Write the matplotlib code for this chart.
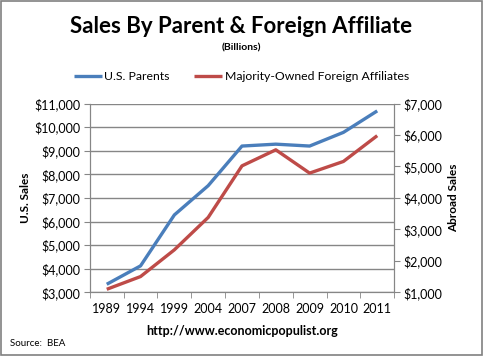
import matplotlib
matplotlib.use("Agg")
import matplotlib.pyplot as plt
from matplotlib.patches import Rectangle
from matplotlib.ticker import FuncFormatter

# values (billions of dollars)
years = ["1989", "1994", "1999", "2004", "2007", "2008", "2009", "2010", "2011"]
us_parents = [3340, 4120, 6280, 7520, 9200, 9280, 9200, 9780, 10690]
foreign_affiliates = [1095, 1500, 2350, 3380, 5020, 5530, 4790, 5160, 5980]

left_ticks = list(range(3000, 11001, 1000))
right_ticks = list(range(1000, 7001, 1000))

blue = "#4a7ebb"
red = "#be4b48"
grey = "#868686"
font = "Lato"

fig = plt.figure(figsize=(4.83, 3.56), dpi=100)
fig.patches.append(Rectangle((0.002, 0.003), 0.995, 0.993, transform=fig.transFigure,
                             fill=False, edgecolor="#808080", lw=1.2))

ax = fig.add_axes([0.186, 0.179, 0.63, 0.530])
ax2 = ax.twinx()

x = list(range(len(years)))
l1, = ax.plot(x, us_parents, color=blue, lw=2.4, solid_capstyle="butt")
l2, = ax2.plot(x, foreign_affiliates, color=red, lw=2.4, solid_capstyle="butt")

ax.set_xlim(-0.5, len(years) - 0.5)
ax.set_ylim(3000, 11000)
ax2.set_ylim(1000, 7000)
ax.set_yticks(left_ticks)
ax2.set_yticks(right_ticks)
money = FuncFormatter(lambda v, p: "${:,.0f}".format(v))
ax.yaxis.set_major_formatter(money)
ax2.yaxis.set_major_formatter(money)

ax.set_xticks(x)
ax.set_xticklabels(years)
ax.set_xticks([i - 0.5 for i in range(len(years) + 1)], minor=True)
ax.tick_params(axis="x", which="major", length=0, pad=8, labelsize=9)
ax.tick_params(axis="x", which="minor", length=4, color=grey, direction="out")
ax.tick_params(axis="y", length=4, color=grey, labelsize=9, pad=3)
ax2.tick_params(axis="y", length=4, color=grey, labelsize=9, pad=3)

ax.grid(axis="y", color=grey, lw=1)
ax.set_axisbelow(True)
for a in (ax, ax2):
    a.spines["top"].set_visible(False)
    for s in ("left", "right", "bottom"):
        a.spines[s].set_color(grey)
for lab in ax.get_xticklabels() + ax.get_yticklabels() + ax2.get_yticklabels():
    lab.set_fontfamily(font)

ax.set_xlabel("http://www.economicpopulist.org", fontsize=9, fontweight="bold",
              family=font, labelpad=7)
ax.set_ylabel("U.S. Sales", fontsize=8.5, fontweight="bold", family=font, labelpad=2)
ax2.set_ylabel("Abroad Sales", fontsize=8.5, fontweight="bold", family=font, labelpad=4)

fig.text(0.5, 0.925, "Sales By Parent & Foreign Affiliate", ha="center", va="center",
         fontsize=16, fontweight="bold", family=font)
fig.text(0.5, 0.865, "(Billions)", ha="center", va="center", fontsize=7.5,
         fontweight="bold", family=font)
fig.text(0.02, 0.035, "Source:  BEA", ha="left", va="center", fontsize=7, family=font)

fig.legend([l1, l2], ["U.S. Parents", "Majority-Owned Foreign Affiliates"],
           loc="center", bbox_to_anchor=(0.5, 0.785), ncol=2, frameon=False,
           prop={"family": font, "size": 8.8}, handlelength=2.3, handletextpad=0.2,
           columnspacing=2.0)

fig.savefig("out.png", dpi=100)
